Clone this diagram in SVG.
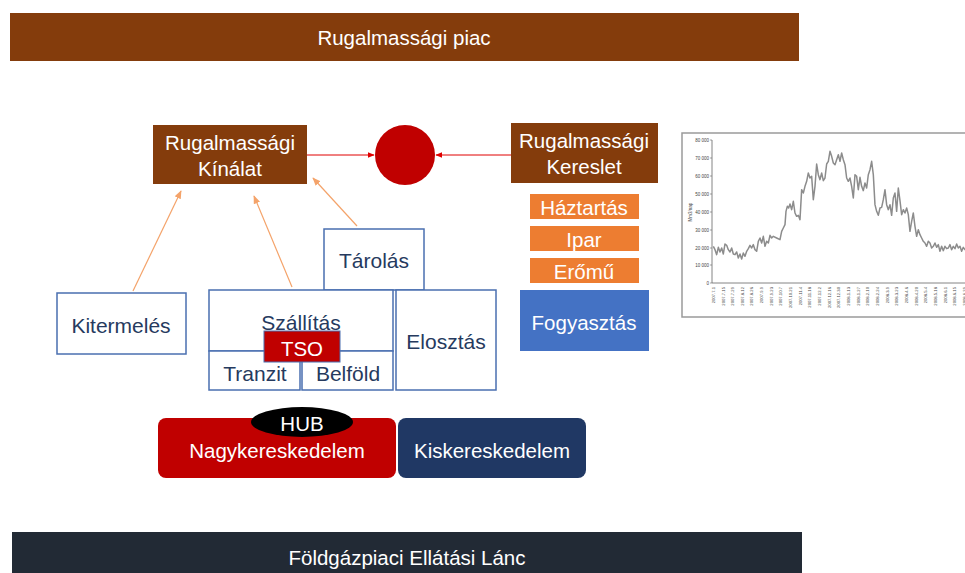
<svg xmlns="http://www.w3.org/2000/svg" width="965" height="573" viewBox="0 0 965 573">
<defs>
<style>
text{font-family:"Liberation Sans",Arial,sans-serif;text-anchor:middle;dominant-baseline:central}
.w{fill:#ffffff;font-size:20.5px}
.n{fill:#263a5e;font-size:21px}
.ob{fill:#ffffff;stroke:#4a6fb0;stroke-width:1.5}
.org{fill:#ed7d31}
.brown{fill:#843c0c}
.tick{font-size:4.5px;fill:#444;text-anchor:end}
.xl{font-size:4.2px;fill:#444;text-anchor:end}
</style>
<marker id="ar" viewBox="0 0 10 10" refX="9" refY="5" markerWidth="7" markerHeight="7" orient="auto"><path d="M0,1 L10,5 L0,9 z" fill="#e00000"/></marker>
<marker id="ao" viewBox="0 0 10 10" refX="9" refY="5" markerWidth="7" markerHeight="7" orient="auto"><path d="M0,1 L10,5 L0,9 z" fill="#f4a36a"/></marker>
</defs>
<rect width="965" height="573" fill="#ffffff"/>

<g id="title-top">
<rect x="10" y="13" width="789" height="48" class="brown"/>
<text x="404" y="37" class="w" font-size="21">Rugalmassági piac</text>
</g>
<g id="title-bottom">
<rect x="12" y="532" width="790" height="45" fill="#222a35"/>
<text x="407" y="557" class="w" font-size="21">Földgázpiaci Ellátási Lánc</text>
</g>

<g id="connectors" fill="none">
<line x1="307" y1="155" x2="374" y2="155" stroke="#e00000" stroke-width="1" marker-end="url(#ar)"/>
<line x1="511" y1="155" x2="436" y2="155" stroke="#e00000" stroke-width="1" marker-end="url(#ar)"/>
<line x1="133" y1="291" x2="181" y2="191" stroke="#f4a36a" stroke-width="1.2" marker-end="url(#ao)"/>
<line x1="292" y1="287" x2="254" y2="196" stroke="#f4a36a" stroke-width="1.2" marker-end="url(#ao)"/>
<line x1="357" y1="226" x2="313" y2="178" stroke="#f4a36a" stroke-width="1.2" marker-end="url(#ao)"/>
</g>

<g id="kinalat">
<rect x="153" y="125" width="154" height="59" class="brown"/>
<text x="230" y="142" class="w">Rugalmassági</text>
<text x="230" y="168" class="w">Kínálat</text>
</g>
<g id="market">
<circle cx="405" cy="155" r="30" fill="#c00000"/>
</g>
<g id="kereslet">
<rect x="511" y="123" width="147" height="60" class="brown"/>
<text x="584" y="140" class="w">Rugalmassági</text>
<text x="584" y="166" class="w">Kereslet</text>
</g>
<g id="haztartas">
<rect x="530" y="194" width="109" height="25" class="org"/>
<text x="584" y="207" class="w">Háztartás</text>
</g>
<g id="ipar">
<rect x="530" y="226" width="109" height="25" class="org"/>
<text x="584" y="239" class="w">Ipar</text>
</g>
<g id="eromu">
<rect x="530" y="258" width="109" height="25" class="org"/>
<text x="584" y="271" class="w">Erőmű</text>
</g>
<g id="fogyasztas">
<rect x="520" y="290" width="129" height="61" fill="#4472c4"/>
<text x="584" y="322" class="w" font-size="21">Fogyasztás</text>
</g>
<g id="kitermeles">
<rect x="57" y="293" width="129" height="61" class="ob"/>
<text x="121" y="325" class="n">Kitermelés</text>
</g>
<g id="tarolas">
<rect x="324" y="229" width="100" height="61" class="ob"/>
<text x="374" y="260" class="n">Tárolás</text>
</g>
<g id="szallitas">
<rect x="209" y="290" width="184" height="61" class="ob"/>
<text x="301" y="322" class="n">Szállítás</text>
</g>
<g id="tranzit">
<rect x="209" y="351" width="91" height="39" class="ob"/>
<text x="255" y="373" class="n">Tranzit</text>
</g>
<g id="belfold">
<rect x="302" y="351" width="91" height="39" class="ob"/>
<text x="348" y="373" class="n">Belföld</text>
</g>
<g id="elosztas">
<rect x="396" y="290" width="100" height="100" class="ob"/>
<text x="446" y="341" class="n">Elosztás</text>
</g>
<g id="tso">
<rect x="264" y="331" width="76" height="31" fill="#c00000" stroke="#4a6fb0" stroke-width="1"/>
<text x="302" y="348" class="w" font-size="21">TSO</text>
</g>
<g id="nagykereskedelem">
<rect x="158" y="418" width="238" height="60" rx="8" fill="#c00000"/>
<text x="277" y="450" class="w" font-size="21.5">Nagykereskedelem</text>
</g>
<g id="hub">
<ellipse cx="302" cy="422" rx="51" ry="15" fill="#000000"/>
<text x="302" y="423" class="w">HUB</text>
</g>
<g id="kiskereskedelem">
<rect x="398" y="418" width="188" height="60" rx="8" fill="#203864"/>
<text x="492" y="450" class="w" font-size="21.5">Kiskereskedelem</text>
</g>

<g id="chart">
<rect x="682" y="133" width="290" height="184" fill="#ffffff" stroke="#9a9a9a" stroke-width="1.5"/>
<line x1="712" y1="140" x2="712" y2="283" stroke="#666" stroke-width="0.8"/>
<line x1="712" y1="283" x2="970" y2="283" stroke="#666" stroke-width="0.8"/>
<g stroke="#666" stroke-width="0.6">
<line x1="710" y1="140" x2="712" y2="140"/><line x1="710" y1="158" x2="712" y2="158"/><line x1="710" y1="176" x2="712" y2="176"/><line x1="710" y1="194" x2="712" y2="194"/><line x1="710" y1="212" x2="712" y2="212"/><line x1="710" y1="230" x2="712" y2="230"/><line x1="710" y1="248" x2="712" y2="248"/><line x1="710" y1="265" x2="712" y2="265"/><line x1="710" y1="283" x2="712" y2="283"/>
</g>
<text class="tick" x="709" y="140">80 000</text>
<text class="tick" x="709" y="158">70 000</text>
<text class="tick" x="709" y="176">60 000</text>
<text class="tick" x="709" y="194">50 000</text>
<text class="tick" x="709" y="212">40 000</text>
<text class="tick" x="709" y="230">30 000</text>
<text class="tick" x="709" y="248">20 000</text>
<text class="tick" x="709" y="265">10 000</text>
<text class="tick" x="709" y="283">0</text>
<text x="690" y="212" font-size="4.5" fill="#444" transform="rotate(-90 690 212)">Mm3/nap</text>
<g>
<text class="xl" transform="translate(713,287) rotate(-90)">2007.7.1</text>
<text class="xl" transform="translate(723,287) rotate(-90)">2007.7.15</text>
<text class="xl" transform="translate(732,287) rotate(-90)">2007.7.29</text>
<text class="xl" transform="translate(742,287) rotate(-90)">2007.8.12</text>
<text class="xl" transform="translate(751,287) rotate(-90)">2007.8.26</text>
<text class="xl" transform="translate(761,287) rotate(-90)">2007.9.9</text>
<text class="xl" transform="translate(771,287) rotate(-90)">2007.9.23</text>
<text class="xl" transform="translate(780,287) rotate(-90)">2007.10.7</text>
<text class="xl" transform="translate(790,287) rotate(-90)">2007.10.21</text>
<text class="xl" transform="translate(800,287) rotate(-90)">2007.11.4</text>
<text class="xl" transform="translate(809,287) rotate(-90)">2007.11.18</text>
<text class="xl" transform="translate(819,287) rotate(-90)">2007.12.2</text>
<text class="xl" transform="translate(829,287) rotate(-90)">2007.12.16</text>
<text class="xl" transform="translate(838,287) rotate(-90)">2007.12.30</text>
<text class="xl" transform="translate(848,287) rotate(-90)">2008.1.13</text>
<text class="xl" transform="translate(858,287) rotate(-90)">2008.1.27</text>
<text class="xl" transform="translate(867,287) rotate(-90)">2008.2.10</text>
<text class="xl" transform="translate(877,287) rotate(-90)">2008.2.24</text>
<text class="xl" transform="translate(887,287) rotate(-90)">2008.3.9</text>
<text class="xl" transform="translate(896,287) rotate(-90)">2008.3.23</text>
<text class="xl" transform="translate(906,287) rotate(-90)">2008.4.6</text>
<text class="xl" transform="translate(916,287) rotate(-90)">2008.4.20</text>
<text class="xl" transform="translate(925,287) rotate(-90)">2008.5.4</text>
<text class="xl" transform="translate(935,287) rotate(-90)">2008.5.18</text>
<text class="xl" transform="translate(945,287) rotate(-90)">2008.6.1</text>
<text class="xl" transform="translate(954,287) rotate(-90)">2008.6.15</text>
<text class="xl" transform="translate(964,287) rotate(-90)">2008.6.29</text>
</g>
<polyline transform="translate(680,128) scale(0.3333)" fill="none" stroke="#8c8c8c" stroke-width="4.5" stroke-linejoin="round" points="100,355 105,365 110,380 115,358 120,372 125,360 130,378 135,348 140,352 145,365 150,372 155,360 160,378 165,380 170,372 175,390 180,378 185,393 190,375 195,385 200,370 205,362 210,352 215,360 220,350 225,365 230,370 235,340 240,330 245,345 250,325 255,355 260,340 265,345 270,322 275,330 280,325 290,330 300,335 305,310 310,300 315,290 318,250 322,235 326,240 330,228 335,245 340,220 345,255 350,265 355,262 360,275 365,185 370,195 375,175 380,160 385,135 390,150 395,145 400,215 405,175 410,108 415,140 420,155 425,135 430,158 435,150 440,108 445,100 450,70 455,85 460,105 465,110 470,95 475,80 480,100 485,75 490,95 495,110 500,150 505,160 510,150 515,175 520,210 525,140 530,145 535,185 540,148 545,175 550,188 555,165 560,180 565,140 570,125 575,100 580,140 585,230 590,250 595,262 600,240 605,238 610,215 615,185 620,230 625,245 630,230 635,262 640,210 645,195 650,250 655,180 660,218 665,260 670,245 675,255 680,240 685,260 690,310 695,280 700,255 705,295 710,325 715,305 720,320 725,330 730,340 735,345 740,355 745,340 750,345 755,360 760,355 765,345 770,358 775,350 780,370 785,355 790,368 795,355 800,362 805,360 810,350 815,365 820,355 825,362 830,348 835,360 840,355 845,370 850,358 855,365 860,360"/>
</g>
</svg>
